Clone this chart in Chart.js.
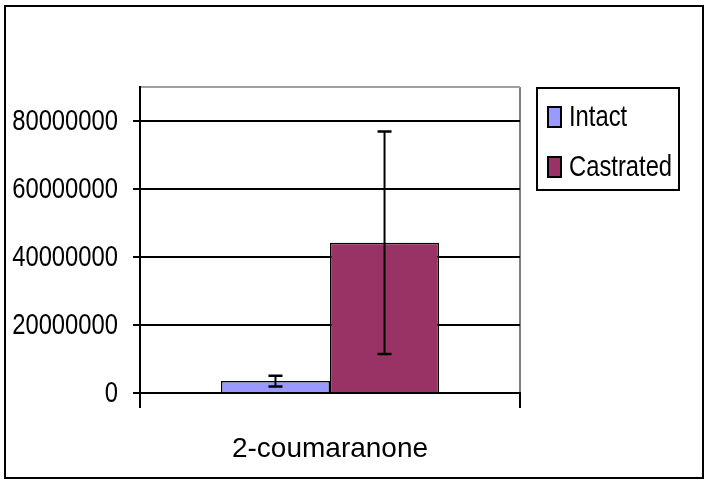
<!DOCTYPE html>
<html>
<head>
<meta charset="utf-8">
<script src="https://cdn.jsdelivr.net/npm/chart.js@4"></script>
<style>
  html, body { margin: 0; padding: 0; background: #fff; }
  #wrap { position: relative; width: 707px; height: 483px; }
</style>
</head>
<body>
<div id="wrap"><canvas id="chart" width="707" height="483"></canvas></div>
<script>
// datos
var categories = ['2-coumaranone'];
var seriesNames = ['Intact', 'Castrated'];
var intactValues = [3500000];
var castratedValues = [44200000];
var intactErrors = [1600000];
var castratedErrors = [32700000];
var yTickLabels = [0, 20000000, 40000000, 60000000, 80000000];
var seriesColors = ['#9999FF', '#993366'];

var ARIAL = '"Liberation Sans", Arial, sans-serif';

// texto estrecho (la fuente del original es mas alta que ancha)
function condensedText(ctx, text, x, y, align, sx) {
    ctx.save();
    ctx.translate(x, y);
    ctx.scale(sx, 1);
    ctx.textAlign = align;
    ctx.fillText(text, 0, 0);
    ctx.restore();
}

// marco exterior, barras de error, etiquetas del eje y leyenda
var extras = {
    id: 'extras',
    beforeDraw: function (chart) {
        var ctx = chart.ctx;
        ctx.save();
        ctx.fillStyle = '#fff';
        ctx.fillRect(0, 0, chart.width, chart.height);
        ctx.restore();
    },
    afterDatasetsDraw: function (chart) {
        var ctx = chart.ctx;
        var y = chart.scales.y;
        ctx.save();
        ctx.strokeStyle = '#000';
        chart.data.datasets.forEach(function (ds, i) {
            var meta = chart.getDatasetMeta(i);
            meta.data.forEach(function (bar, j) {
                var v = ds.data[j], e = ds.errors[j];
                var top = y.getPixelForValue(v + e);
                var bot = y.getPixelForValue(v - e);
                ctx.lineWidth = 2;
                ctx.beginPath();
                ctx.moveTo(bar.x, top);
                ctx.lineTo(bar.x, bot);
                ctx.stroke();
                ctx.lineWidth = 2.5;
                ctx.beginPath();
                ctx.moveTo(bar.x - 7, top);
                ctx.lineTo(bar.x + 7, top);
                ctx.moveTo(bar.x - 7, bot);
                ctx.lineTo(bar.x + 7, bot);
                ctx.stroke();
            });
        });
        ctx.restore();
    },
    afterDraw: function (chart) {
        var ctx = chart.ctx;
        var y = chart.scales.y;
        ctx.save();
        // etiquetas del eje y
        ctx.fillStyle = '#000';
        ctx.font = '29px ' + ARIAL;
        ctx.textBaseline = 'middle';
        yTickLabels.forEach(function (v) {
            condensedText(ctx, String(v), 118, y.getPixelForValue(v) + 1, 'right', 0.82);
        });
        // marco exterior
        ctx.strokeStyle = '#000';
        ctx.lineWidth = 2;
        ctx.strokeRect(5, 6, 698, 472);
        // leyenda
        ctx.strokeRect(537, 88, 142, 102);
        chart.data.datasets.forEach(function (ds, i) {
            var cy = 117 + i * 50;
            ctx.fillStyle = ds.backgroundColor;
            ctx.fillRect(548, cy - 10, 13, 20);
            ctx.lineWidth = 2;
            ctx.strokeStyle = '#000';
            ctx.strokeRect(548, cy - 10, 13, 20);
            ctx.fillStyle = '#000';
            condensedText(ctx, ds.label, 569, cy + 1, 'left', 0.82);
        });
        ctx.restore();
    }
};

var ctx = document.getElementById('chart').getContext('2d');
var chart = new Chart(ctx, {
    type: 'bar',
    data: {
        labels: categories,
        datasets: [{
            label: seriesNames[0],
            data: intactValues,
            errors: intactErrors,
            backgroundColor: seriesColors[0],
            borderColor: '#000',
            borderWidth: 1.5
        }, {
            label: seriesNames[1],
            data: castratedValues,
            errors: castratedErrors,
            backgroundColor: seriesColors[1],
            borderColor: '#000',
            borderWidth: 1.5
        }]
    },
    options: {
        responsive: false,
        animation: false,
        layout: { padding: { top: 87, right: 187, left: 0, bottom: 0 } },
        datasets: { bar: { categoryPercentage: 0.574, barPercentage: 1 } },
        plugins: {
            legend: { display: false },
            tooltip: { enabled: false }
        },
        scales: {
            x: {
                afterFit: function (s) { s.height = 90; },
                border: { color: '#000', width: 2 },
                grid: {
                    color: '#808080', lineWidth: 2, tickColor: '#000',
                    tickLength: 15
                },
                ticks: {
                    color: '#000', padding: 24,
                    font: { family: ARIAL, size: 28 }
                }
            },
            y: {
                min: 0,
                max: 90000000,
                afterFit: function (s) { s.width = 140; },
                afterBuildTicks: function (s) {
                    s.ticks = yTickLabels.concat([90000000]).map(function (v) { return { value: v }; });
                },
                border: { color: '#000', width: 2 },
                grid: {
                    color: function (c) { return c.tick && c.tick.value === 90000000 ? '#a0a0a0' : '#000'; },
                    lineWidth: 2,
                    tickLength: 7,
                    tickColor: function (c) { return c.tick && c.tick.value === 90000000 ? 'rgba(0,0,0,0)' : '#000'; }
                },
                ticks: { display: false }
            }
        }
    },
    plugins: [extras]
});
</script>
</body>
</html>
